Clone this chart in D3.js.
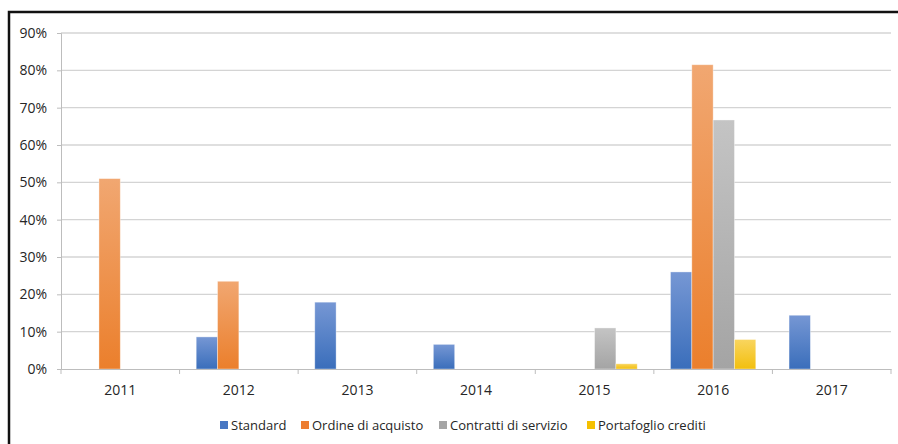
<!DOCTYPE html>
<html>
<head>
<meta charset="utf-8">
<script src="https://cdn.jsdelivr.net/npm/d3@7"></script>
<style>
  body { margin: 0; background: #fff; }
  svg { display: block; font-family: "Open Sans", sans-serif; }
</style>
</head>
<body>
<svg id="chart" width="898" height="444"></svg>
<script>
const years = ['2011', '2012', '2013', '2014', '2015', '2016', '2017'];
const seriesNames = ['Standard', 'Ordine di acquisto', 'Contratti di servizio', 'Portafoglio crediti'];
const standard = [0, 8.6, 17.9, 6.6, 0, 26, 14.4];
const ordine = [51, 23.5, 0, 0, 0, 81.5, 0];
const contratti = [0, 0, 0, 0, 11, 66.7, 0];
const portafoglio = [0, 0, 0, 0, 1.4, 7.9, 0];
const yTicks = [0, 10, 20, 30, 40, 50, 60, 70, 80, 90];

const allValues = [standard, ordine, contratti, portafoglio];
// gradient colours per series (top, bottom) plus legend swatch
const colors = [
    { top: '#7697d4', bottom: '#3a6ebb', key: '#4877c3' },
    { top: '#f1a771', bottom: '#eb7f2c', key: '#ed7d31' },
    { top: '#c4c4c4', bottom: '#a4a4a4', key: '#a5a5a5' },
    { top: '#f9d55f', bottom: '#f2bf0e', key: '#f5c000' }
];
const font = '"Open Sans", sans-serif';

const svg = d3.select('#chart');
const margin = { top: 33, right: 7, bottom: 75, left: 61 };
const width = 898 - margin.left - margin.right;
const height = 444 - margin.top - margin.bottom;

// outer frame
svg.append('rect')
    .attr('x', 9).attr('y', 12)
    .attr('width', 1000).attr('height', 1000)
    .attr('fill', 'none')
    .attr('stroke', '#111')
    .attr('stroke-width', 2.5);

const defs = svg.append('defs');
colors.forEach((c, i) => {
    const lg = defs.append('linearGradient')
        .attr('id', 'grad' + i)
        .attr('x1', 0).attr('y1', 0).attr('x2', 0).attr('y2', 1);
    lg.append('stop').attr('offset', '0%').attr('stop-color', c.top);
    lg.append('stop').attr('offset', '100%').attr('stop-color', c.bottom);
});

const g = svg.append('g')
    .attr('transform', `translate(${margin.left},${margin.top})`);

const x = d3.scaleBand().domain(years).range([0, width]).padding(0);
const xs = d3.scaleBand().domain(d3.range(4)).range([0, x.bandwidth()])
    .paddingInner(0).paddingOuter(0.78);
const y = d3.scaleLinear().domain([0, 90]).range([height, 0]);

// gridlines
g.selectAll('.grid')
    .data(yTicks.slice(1))
    .enter().append('line')
    .attr('x1', 0).attr('x2', width)
    .attr('y1', d => y(d)).attr('y2', d => y(d))
    .attr('stroke', '#d4d4d4')
    .attr('stroke-width', 1.4);

// Y axis
const yAxis = g.append('g')
    .call(d3.axisLeft(y).tickValues(yTicks).tickFormat(d => d + '%').tickSize(4).tickPadding(10));
yAxis.attr('font-family', null).attr('font-size', null);
yAxis.select('.domain').attr('stroke', '#bdbdbd');
yAxis.selectAll('.tick line').attr('stroke', '#bdbdbd');
yAxis.selectAll('text').style('font-family', font).style('font-size', '14px').style('fill', '#262626');

// bars
const data = [];
years.forEach((yr, i) => {
    allValues.forEach((vals, s) => {
        if (vals[i] > 0) data.push({ year: yr, s: s, v: vals[i] });
    });
});

g.selectAll('.bar')
    .data(data)
    .enter().append('rect')
    .attr('class', 'bar')
    .attr('x', d => x(d.year) + xs(d.s))
    .attr('y', d => y(d.v))
    .attr('width', xs.bandwidth())
    .attr('height', d => height - y(d.v))
    .attr('fill', d => `url(#grad${d.s})`)
    .attr('stroke', 'rgba(255,255,255,0.45)')
    .attr('stroke-width', 0.8);

// X axis
const xAxis = g.append('g')
    .attr('transform', `translate(0,${height})`)
    .call(d3.axisBottom(x).tickSize(0).tickPadding(16));
xAxis.attr('font-family', null).attr('font-size', null);
xAxis.select('.domain').attr('stroke', '#bdbdbd');
xAxis.selectAll('text').style('font-family', font).style('font-size', '14px').style('fill', '#262626');

// category separators
g.selectAll('.sep')
    .data(d3.range(years.length + 1))
    .enter().append('line')
    .attr('x1', d => d * x.step()).attr('x2', d => d * x.step())
    .attr('y1', height).attr('y2', height + 5)
    .attr('stroke', '#bdbdbd');

// legend
const legendX = [220, 301, 439, 587];
const legend = svg.append('g').attr('transform', 'translate(0,425)');
seriesNames.forEach((name, i) => {
    legend.append('rect')
        .attr('x', legendX[i]).attr('y', -4)
        .attr('width', 8).attr('height', 8)
        .attr('fill', colors[i].key);
    legend.append('text')
        .attr('x', legendX[i] + 11).attr('y', 0)
        .attr('dy', '0.35em')
        .style('font-family', font)
        .style('font-size', '13px')
        .style('fill', '#262626')
        .text(name);
});
</script>
</body>
</html>
